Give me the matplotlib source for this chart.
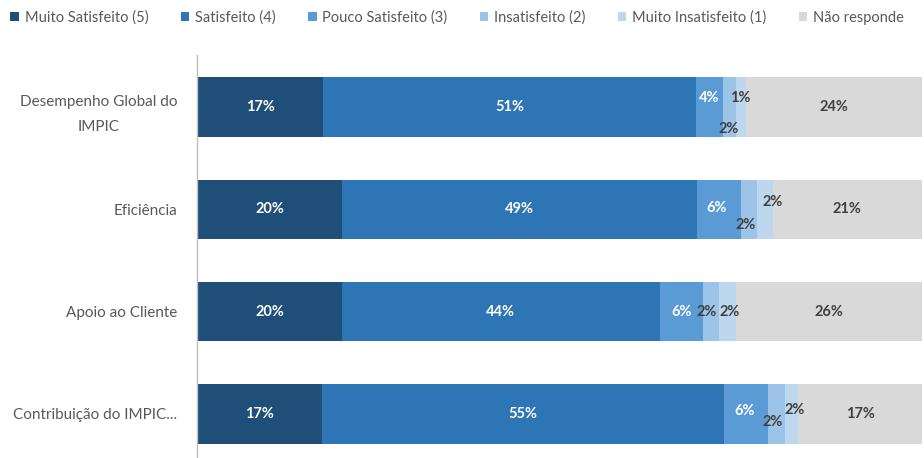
import matplotlib
matplotlib.use("Agg")
import matplotlib.pyplot as plt
from matplotlib.patches import Patch

categories = ["Desempenho Global do\nIMPIC", "Eficiência", "Apoio ao Cliente", "Contribuição do IMPIC..."]
series = ["Muito Satisfeito (5)", "Satisfeito (4)", "Pouco Satisfeito (3)",
          "Insatisfeito (2)", "Muito Insatisfeito (1)", "Não responde"]
muito_satisfeito = [17.4, 20.0, 20.0, 17.3]
satisfeito = [51.4, 48.9, 43.8, 55.4]
pouco_satisfeito = [3.7, 6.2, 6.0, 6.1]
insatisfeito = [1.8, 2.1, 2.2, 2.3]
muito_insatisfeito = [1.4, 2.2, 2.3, 1.8]
nao_responde = [24.3, 20.6, 25.7, 17.1]
values = [muito_satisfeito, satisfeito, pouco_satisfeito, insatisfeito, muito_insatisfeito, nao_responde]

colors = ["#1F4E79", "#2E75B6", "#5B9BD5", "#9DC3E6", "#BDD7EE", "#D9D9D9"]
text_colors = ["white", "white", "white", "#404040", "#404040", "#404040"]
# label offsets in pixels (dx, dy) per series per row
offsets = {
    2: [(0, 9), (-2, 1), (0, 0), (-2, 3)],
    3: [(0, -22), (-3, -16), (-4, 0), (-4, -8)],
    4: [(0, 9), (8, 7), (2, 0), (3, 4)],
}

plt.rcParams['font.family'] = ['Lato', 'DejaVu Sans']

fig = plt.figure(figsize=(9.24, 4.58), dpi=100)
ax = fig.add_axes([197/924, 0, (922-197)/924, 403/458])

ypos = list(range(len(categories)))
left = [0.0]*len(categories)
for i, (name, vals) in enumerate(zip(series, values)):
    bars = ax.barh(ypos, vals, left=left, height=0.58, color=colors[i], label=name, edgecolor='none')
    for j, (b, v) in enumerate(zip(bars, vals)):
        cx = b.get_x() + b.get_width()/2
        cy = b.get_y() + b.get_height()/2
        dx, dy = offsets.get(i, [(0, 0)]*4)[j]
        ax.annotate(f"{round(v):d}%", (cx, cy), xytext=(dx, dy), textcoords='offset pixels',
                    ha='center', va='center', fontsize=10.5, fontweight='bold', color=text_colors[i])
    left = [l + v for l, v in zip(left, vals)]

ax.set_xlim(0, 100)
ax.set_ylim(3 + 44/102.3, -52/102.3)
ax.set_yticks(ypos)
ax.set_yticklabels(categories, fontsize=11, color='#595959', multialignment='center', linespacing=2.0)
ax.tick_params(axis='y', length=0, pad=14)
ax.set_xticks([])
for s in ['top', 'right', 'bottom']:
    ax.spines[s].set_visible(False)
ax.spines['left'].set_color('#BFBFBF')
ax.spines['left'].set_linewidth(1)

handles = [Patch(facecolor=c, edgecolor='none') for c in colors]
fig.legend(handles, series, loc='upper left', bbox_to_anchor=(0.0, 1.0), ncol=6, frameon=False,
           fontsize=10.5, handlelength=0.6, handleheight=0.6, handletextpad=0.4,
           columnspacing=2.2, labelcolor='#595959', borderaxespad=0.3)

fig.savefig("out.png", dpi=100)
